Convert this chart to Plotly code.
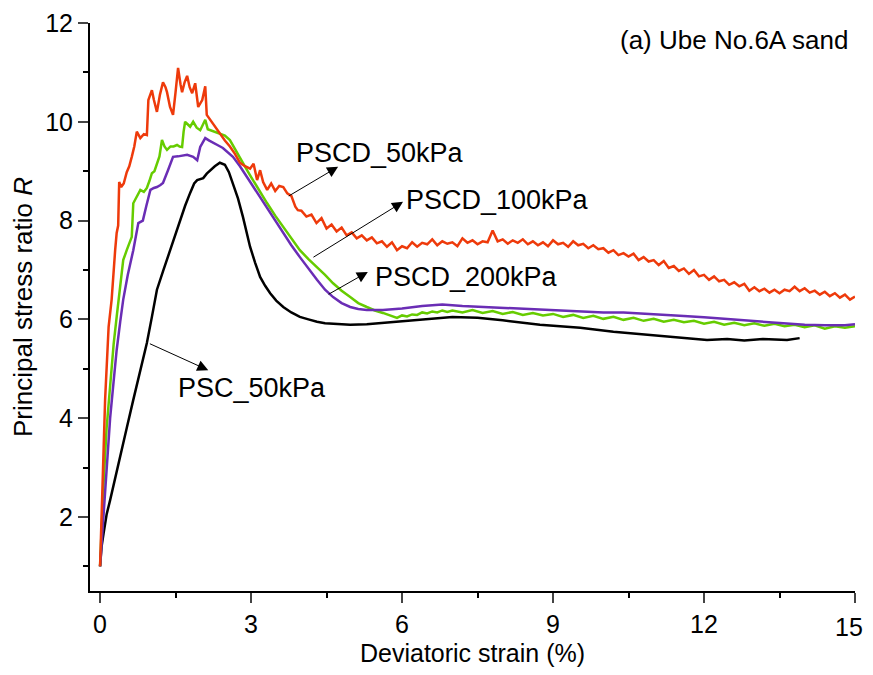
import plotly.graph_objects as go

# ---- data ----
red_x = [0, 0.04, 0.1, 0.17, 0.23, 0.3, 0.33, 0.36, 0.38, 0.42, 0.47, 0.53, 0.58, 0.63, 0.68, 0.73, 0.8, 0.87,
         0.93, 0.96, 1.03, 1.07, 1.13, 1.19, 1.25, 1.3, 1.33, 1.39, 1.45, 1.5, 1.55, 1.6, 1.63, 1.68, 1.73, 1.78,
         1.83, 1.89, 1.95, 2.03, 2.09, 2.12, 2.19, 2.28, 2.38, 2.48, 2.58, 2.68, 2.78, 2.88, 2.98, 3.05, 3.12,
         3.18, 3.24, 3.32, 3.4, 3.48, 3.56, 3.64, 3.72, 3.8, 3.88, 3.93,
         4.0, 4.1, 4.2, 4.3, 4.4, 4.5, 4.6, 4.7, 4.8, 4.9, 5.0, 5.1, 5.2, 5.3, 5.4, 5.5, 5.6, 5.7, 5.8, 5.9,
         6.0, 6.1, 6.2, 6.3, 6.4, 6.5, 6.6, 6.7, 6.8, 6.9, 7.0, 7.1, 7.2, 7.3, 7.4, 7.5, 7.6, 7.7, 7.8, 7.9,
         8.0, 8.1, 8.2, 8.3, 8.4, 8.5, 8.6, 8.7, 8.8, 8.9, 9.0, 9.1, 9.2, 9.3, 9.4, 9.5, 9.6, 9.7, 9.8, 9.9,
         10.0, 10.1, 10.2, 10.3, 10.4, 10.5, 10.6, 10.7, 10.8, 10.9, 11.0, 11.1, 11.2, 11.3, 11.4, 11.5, 11.6,
         11.7, 11.8, 11.9, 12.0, 12.1, 12.2, 12.3, 12.4, 12.5, 12.6, 12.7, 12.8, 12.9, 13.0, 13.1, 13.2, 13.3,
         13.4, 13.5, 13.6, 13.7, 13.8, 13.9, 14.0, 14.1, 14.2, 14.3, 14.4, 14.5, 14.6, 14.7, 14.8, 14.9, 15.0]
red_y = [1.0, 2.35, 4.37, 5.85, 6.4, 7.4, 7.75, 7.9, 8.78, 8.68, 8.75, 8.98, 9.1, 9.29, 9.5, 9.8, 9.67, 9.75,
         9.73, 10.44, 10.64, 10.44, 10.2, 10.55, 10.8, 10.7, 10.6, 10.3, 10.14, 10.6, 11.09, 10.75, 10.6, 10.8,
         10.93, 10.7, 10.58, 10.78, 10.3, 10.44, 10.72, 10.14, 10.04, 9.9, 9.77, 9.62, 9.5, 9.35, 9.17, 9.1,
         9.05, 9.15, 8.82, 9.02, 8.78, 8.62, 8.75, 8.6, 8.7, 8.68, 8.55, 8.5, 8.28, 8.21,
         8.2, 8.08, 8.12, 7.95, 8.05, 7.84, 7.92, 7.78, 7.86, 7.7, 7.76, 7.64, 7.7, 7.6, 7.66, 7.54, 7.58,
         7.47, 7.56, 7.4, 7.48, 7.44, 7.56, 7.47, 7.55, 7.52, 7.62, 7.5, 7.58, 7.53, 7.56, 7.48, 7.64, 7.55,
         7.6, 7.52, 7.58, 7.56, 7.8, 7.58, 7.62, 7.53, 7.6, 7.55, 7.62, 7.52, 7.58, 7.5, 7.56, 7.48, 7.6, 7.52,
         7.55, 7.47, 7.58, 7.5, 7.53, 7.44, 7.5, 7.42, 7.44, 7.35, 7.4, 7.3, 7.34, 7.27, 7.33, 7.2, 7.26,
         7.17, 7.2, 7.1, 7.18, 7.04, 7.08, 6.98, 7.03, 6.92, 7.0, 6.87, 6.9, 6.8, 6.87, 6.77, 6.8, 6.7,
         6.75, 6.67, 6.72, 6.58, 6.65, 6.57, 6.62, 6.54, 6.6, 6.53, 6.6, 6.57, 6.66, 6.57, 6.63, 6.54, 6.58,
         6.5, 6.56, 6.47, 6.53, 6.44, 6.5, 6.4, 6.46]

green_x = [0, 0.04, 0.07, 0.13, 0.2, 0.27, 0.33, 0.4, 0.46, 0.53, 0.58, 0.63, 0.66, 0.73, 0.8, 0.87, 0.93,
           0.98, 1.03, 1.08, 1.13, 1.18, 1.23, 1.28, 1.33, 1.4, 1.46, 1.53, 1.58, 1.63, 1.66, 1.69, 1.74, 1.79,
           1.85, 1.92, 1.99, 2.05, 2.09, 2.14, 2.19, 2.28, 2.38, 2.48, 2.58, 2.65, 2.72, 2.82, 2.92, 3.02, 3.12,
           3.22, 3.32, 3.48, 3.64, 3.8, 3.97, 4.14, 4.31, 4.47, 4.63, 4.8, 4.97, 5.13, 5.3, 5.46, 5.62, 5.76,
           5.9, 6.0, 6.1, 6.2, 6.3, 6.4, 6.5, 6.6, 6.7, 6.8, 6.9, 7.0, 7.2, 7.4, 7.6, 7.8, 8.0, 8.2, 8.4, 8.6,
           8.8, 9.0, 9.2, 9.4, 9.6, 9.8, 10.0, 10.2, 10.4, 10.6, 10.8, 11.0, 11.2, 11.4, 11.6, 11.8, 12.0,
           12.2, 12.4, 12.6, 12.8, 13.0, 13.2, 13.4, 13.6, 13.8, 14.0, 14.2, 14.4, 14.6, 14.8, 15.0]
green_y = [1.0, 2.0, 2.69, 3.8, 4.71, 5.5, 6.05, 6.7, 7.2, 7.4, 7.55, 7.67, 8.35, 8.5, 8.62, 8.58, 8.66,
           8.8, 8.96, 9.0, 9.17, 9.3, 9.63, 9.5, 9.43, 9.5, 9.5, 9.53, 9.5, 9.49, 9.8, 10.0, 9.95, 9.9, 10.0,
           9.88, 9.83, 9.95, 10.04, 9.85, 9.83, 9.8, 9.77, 9.72, 9.63, 9.5, 9.37, 9.2, 9.02, 8.85, 8.68, 8.5,
           8.35, 8.1, 7.87, 7.62, 7.4, 7.22, 7.06, 6.9, 6.73, 6.58, 6.45, 6.33, 6.25, 6.18, 6.13, 6.08, 6.03,
           6.08, 6.06, 6.1, 6.09, 6.14, 6.12, 6.16, 6.14, 6.18, 6.15, 6.18, 6.14, 6.19, 6.13, 6.17, 6.11, 6.15,
           6.09, 6.13, 6.08, 6.11, 6.05, 6.09, 6.03, 6.07, 6.01, 6.05, 5.99, 6.03, 5.97, 6.01, 5.95, 5.99, 5.94,
           5.97, 5.91, 5.95, 5.89, 5.93, 5.88, 5.92, 5.87, 5.91, 5.86, 5.89, 5.84, 5.88, 5.81, 5.86, 5.83, 5.86]

purple_x = [0, 0.07, 0.13, 0.2, 0.27, 0.33, 0.4, 0.46, 0.55, 0.66, 0.76, 0.85, 0.92, 1.0, 1.07, 1.13, 1.2,
            1.25, 1.35, 1.45, 1.55, 1.65, 1.73, 1.85, 1.93, 1.99, 2.09, 2.17, 2.25, 2.35, 2.44, 2.54, 2.64,
            2.78, 2.92, 3.1, 3.32, 3.48, 3.64, 3.8, 3.97, 4.14, 4.31, 4.47, 4.63, 4.8, 4.97, 5.13, 5.3, 5.62,
            6.0, 6.4, 6.8, 7.2, 7.6, 8.0, 8.4, 8.8, 9.2, 9.6, 10.0, 10.4, 10.8, 11.2, 11.6, 12.0, 12.4, 12.8,
            13.2, 13.6, 14.0, 14.4, 14.8, 15.0]
purple_y = [1.0, 2.0, 3.0, 4.0, 4.75, 5.38, 5.95, 6.4, 6.9, 7.4, 7.95, 8.0, 8.3, 8.62, 8.66, 8.68, 8.72,
            8.76, 9.02, 9.29, 9.3, 9.32, 9.33, 9.29, 9.22, 9.49, 9.67, 9.62, 9.57, 9.52, 9.47, 9.38, 9.29,
            9.1, 8.88, 8.58, 8.25, 7.98, 7.75, 7.5, 7.26, 7.02, 6.8, 6.6, 6.45, 6.33, 6.25, 6.21, 6.19, 6.19,
            6.22, 6.27, 6.3, 6.27, 6.25, 6.23, 6.21, 6.19, 6.17, 6.16, 6.14, 6.14, 6.12, 6.1, 6.07, 6.04,
            6.01, 5.98, 5.95, 5.91, 5.89, 5.88, 5.88, 5.9]

black_x = [0, 0.03, 0.07, 0.13, 0.2, 0.3, 0.4, 0.53, 0.66, 0.8, 0.93, 1.03, 1.13, 1.26, 1.39, 1.5, 1.59,
           1.69, 1.79, 1.87, 1.93, 2.05, 2.12, 2.19, 2.28, 2.38, 2.48, 2.56, 2.64, 2.74, 2.84, 2.92, 2.98,
           3.08, 3.18, 3.28, 3.38, 3.5, 3.64, 3.8, 3.97, 4.14, 4.31, 4.47, 4.63, 4.8, 4.97, 5.3, 5.62, 6.0,
           6.3, 6.7, 7.0, 7.5, 8.0, 8.74, 9.54, 10.2, 10.87, 11.5, 12.06, 12.46, 12.8, 13.17, 13.65, 13.9]
black_y = [1.0, 1.4, 1.67, 2.05, 2.34, 2.8, 3.21, 3.8, 4.37, 4.95, 5.52, 6.05, 6.6, 7.0, 7.4, 7.72, 8.0,
           8.3, 8.56, 8.75, 8.82, 8.86, 8.95, 9.02, 9.1, 9.17, 9.13, 8.98, 8.76, 8.45, 8.07, 7.75, 7.47,
           7.15, 6.86, 6.68, 6.53, 6.38, 6.25, 6.14, 6.05, 6.0, 5.95, 5.92, 5.91, 5.89, 5.89, 5.9, 5.93,
           5.96, 5.99, 6.03, 6.05, 6.03, 5.98, 5.89, 5.83, 5.75, 5.69, 5.64, 5.58, 5.6, 5.57, 5.6, 5.58, 5.62]

x_ticks = [0, 3, 6, 9, 12, 15]
x_tick_text = ["0", "3", "6", "9", "12", ""]   # "15" is drawn as an annotation so it stays in view
last_x_label = "15"
y_ticks = [2, 4, 6, 8, 10, 12]

# labels: (text, text x, text y, arrow tail x, tail y, head x, head y)
labels = [
    ("PSCD_50kPa", 3.85, 9.37, 3.72, 8.48, 4.73, 9.09),
    ("PSCD_100kPa", 6.04, 8.42, 4.21, 7.24, 6.02, 8.38),
    ("PSCD_200kPa", 5.42, 6.86, 4.51, 6.49, 5.32, 6.96),
    ("PSC_50kPa", 1.51, 4.61, 0.96, 5.52, 2.15, 4.97),
]
panel_title = "(a) Ube No.6A sand"

FONT = "Arial, Liberation Sans, sans-serif"
fig = go.Figure()
for xs, ys, col in [(black_x, black_y, "#000000"), (green_x, green_y, "#66CC00"),
                    (purple_x, purple_y, "#6A2DB5"), (red_x, red_y, "#EE3A0B")]:
    fig.add_trace(go.Scatter(x=xs, y=ys, mode="lines", line=dict(color=col, width=2.5),
                             showlegend=False, hoverinfo="skip"))

annots = []
for text, tx, ty, ax_, ay_, hx, hy in labels:
    annots.append(dict(x=hx, y=hy, ax=ax_, ay=ay_, xref="x", yref="y", axref="x", ayref="y",
                       text="", showarrow=True, arrowhead=2, arrowsize=2.2, arrowwidth=1,
                       arrowcolor="black"))
    annots.append(dict(x=tx, y=ty, xref="x", yref="y", text=text, showarrow=False,
                       xanchor="left", yanchor="middle", font=dict(size=27, color="black", family=FONT)))
annots.append(dict(x=14.9, y=11.66, xref="x", yref="y", text=panel_title, showarrow=False,
                   xanchor="right", yanchor="middle", font=dict(size=26, color="black", family=FONT)))
annots.append(dict(x=x_ticks[-1], y=0, xref="x", yref="paper", text=last_x_label, showarrow=False,
                   xanchor="right", yanchor="middle", xshift=10, yshift=-36,
                   font=dict(size=25, color="black", family=FONT)))

# the page body adds an 8px margin; keep the figure inside the window
fig.update_layout(
    width=865, height=659,
    margin=dict(l=82, r=18, t=15, b=76),
    paper_bgcolor="white", plot_bgcolor="white",
    font=dict(family=FONT, size=25, color="black"),
    annotations=annots,
)
fig.update_xaxes(range=[-0.2, 15], tickvals=x_ticks, ticktext=x_tick_text, ticks="outside", ticklen=10,
                 tickwidth=2, showline=True, linewidth=2, linecolor="black", showgrid=False, zeroline=False,
                 automargin=False,
                 minor=dict(dtick=1.5, tick0=0, ticks="outside", ticklen=5, tickwidth=2, tickcolor="black"),
                 title=dict(text="Deviatoric strain (%)", font=dict(size=25), standoff=13),
                 tickfont=dict(size=25))
fig.update_yaxes(range=[0.5, 12], tickvals=y_ticks, ticks="outside", ticklen=10, tickwidth=2,
                 showline=True, linewidth=2, linecolor="black", showgrid=False, zeroline=False,
                 automargin=False,
                 minor=dict(dtick=1, tick0=0, ticks="outside", ticklen=5, tickwidth=2, tickcolor="black"),
                 title=dict(text="Principal stress ratio <i>R</i>", font=dict(size=26), standoff=6),
                 tickfont=dict(size=25))

fig.write_html("out.html")
